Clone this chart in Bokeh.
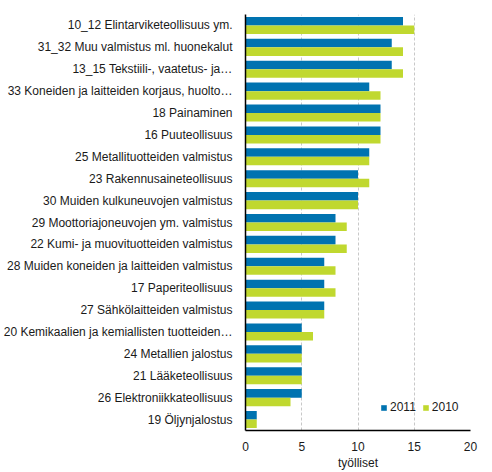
from bokeh.embed import file_html
from bokeh.models import (ColumnDataSource, FactorRange, FixedTicker, Legend,
                          LegendItem, Range1d)
from bokeh.plotting import figure
from bokeh.resources import INLINE
from bokeh.transform import dodge

categories = [
    "10_12 Elintarviketeollisuus ym.",
    "31_32 Muu valmistus ml. huonekalut",
    "13_15 Tekstiili-, vaatetus- ja\u2026",
    "33 Koneiden ja laitteiden korjaus, huolto\u2026",
    "18 Painaminen",
    "16 Puuteollisuus",
    "25 Metallituotteiden valmistus",
    "23 Rakennusaineteollisuus",
    "30 Muiden kulkuneuvojen valmistus",
    "29 Moottoriajoneuvojen ym. valmistus",
    "22 Kumi- ja muovituotteiden valmistus",
    "28 Muiden koneiden ja laitteiden valmistus",
    "17 Paperiteollisuus",
    "27 Sähkölaitteiden valmistus",
    "20 Kemikaalien ja kemiallisten tuotteiden\u2026",
    "24 Metallien jalostus",
    "21 Lääketeollisuus",
    "26 Elektroniikkateollisuus",
    "19 Öljynjalostus",
]
values_2011 = [14, 13, 13, 11, 12, 12, 11, 10, 10, 8, 8, 7, 7, 7, 5, 5, 5, 5, 1]
values_2010 = [15, 14, 14, 12, 12, 12, 11, 11, 10, 9, 9, 8, 8, 7, 6, 5, 5, 4, 1]
x_ticks = [0, 5, 10, 15, 20]

BLUE = "#0073b0"
GREEN = "#c0d82f"
FONT = "Liberation Sans"

source = ColumnDataSource(dict(cat=categories, v2011=values_2011, v2010=values_2010))

p = figure(width=484, height=472,
           y_range=FactorRange(factors=categories[::-1]),
           x_range=Range1d(0, 20),
           output_backend="svg", toolbar_location=None,
           x_axis_label="työlliset",
           min_border_top=14, min_border_right=14, min_border_bottom=4,
           min_border_left=0)
p.outline_line_color = None

r1 = p.hbar(y=dodge("cat", 0.195, range=p.y_range), right="v2011", left=0,
            height=0.39, fill_color=BLUE, line_color=None, source=source)
r2 = p.hbar(y=dodge("cat", -0.195, range=p.y_range), right="v2010", left=0,
            height=0.39, fill_color=GREEN, line_color=None, source=source)

p.xaxis.ticker = FixedTicker(ticks=x_ticks)
p.xgrid.ticker = FixedTicker(ticks=x_ticks)
p.xgrid.grid_line_color = "#c8c8c8"
p.xgrid.grid_line_dash = "3 2"
p.ygrid.grid_line_color = None

for ax in (p.xaxis, p.yaxis):
    ax.axis_line_color = "black"
    ax.axis_line_width = 1.5
    ax.major_tick_line_color = None
    ax.minor_tick_line_color = None
    ax.major_label_text_font = FONT
    ax.major_label_text_font_size = "12px"
    ax.major_label_text_color = "#1a1a1a"

p.yaxis.major_label_standoff = 7
p.xaxis.major_label_standoff = 5
p.xaxis.axis_label_text_font = FONT
p.xaxis.axis_label_text_font_size = "12px"
p.xaxis.axis_label_text_font_style = "normal"
p.xaxis.axis_label_text_color = "#1a1a1a"
p.xaxis.axis_label_standoff = 2

legend = Legend(items=[LegendItem(label="2011", renderers=[r1]),
                       LegendItem(label="2010", renderers=[r2])],
                location=(135, 16), orientation="horizontal")
legend.background_fill_alpha = 0
legend.border_line_color = None
legend.padding = 0
legend.margin = 0
legend.spacing = 6
legend.glyph_width = 7
legend.glyph_height = 7
legend.label_standoff = 3
legend.label_text_font = FONT
legend.label_text_font_size = "12px"
legend.label_text_color = "#1a1a1a"
p.add_layout(legend)

open("out.html", "w").write(file_html(p, INLINE))
